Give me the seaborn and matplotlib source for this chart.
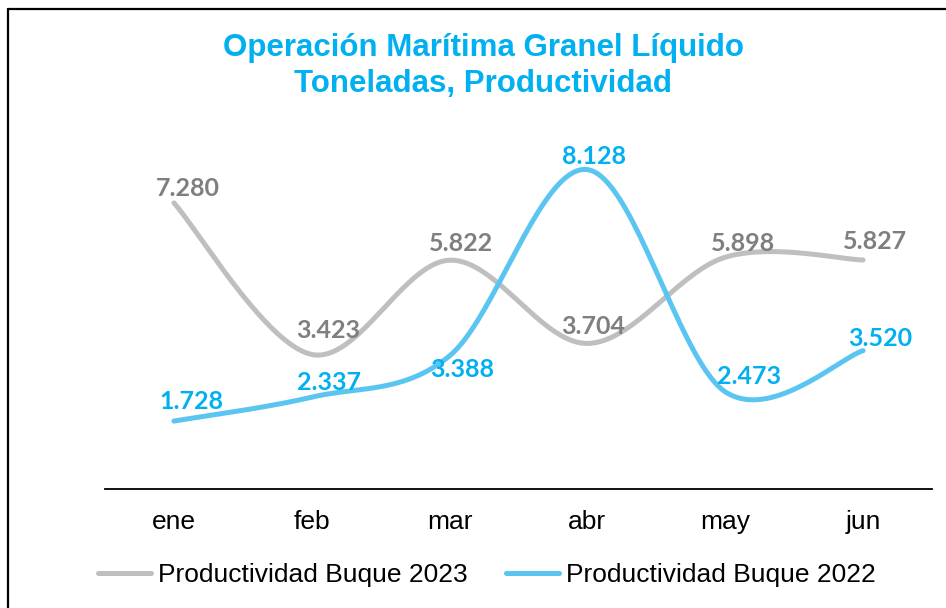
import numpy as np
import pandas as pd
import matplotlib
matplotlib.use("Agg")
import matplotlib.pyplot as plt
from matplotlib.lines import Line2D
import seaborn as sns

months = ["ene", "feb", "mar", "abr", "may", "jun"]
prod_2023 = [7280, 3423, 5822, 3704, 5898, 5827]
prod_2022 = [1728, 2337, 3388, 8128, 2473, 3520]
series_names = ["Productividad Buque 2023", "Productividad Buque 2022"]

# label offsets in pixels (dx, dy), placed by hand as in the original
off_2023 = [(14, 14), (16, 24), (11, 17), (6, 17), (18, 14), (12, 18)]
off_2022 = [(18, 20), (17, 15), (13, -14), (7, 13), (24, 15), (17, 12)]

gray_line, gray_text = "#BFBFBF", "#7F7F7F"
blue_line, blue_text = "#5BC5F1", "#00B0F0"

sns.set_theme(style="white")
plt.rcParams["font.family"] = ["Liberation Sans", "DejaVu Sans"]
plt.rcParams["text.color"] = "black"


def smooth(xs, ys, n=40):
    # excel-like smoothed line: cubic bezier segments, catmull-rom controls
    pts = np.column_stack([xs, ys]).astype(float)
    ext = np.vstack([pts[0], pts, pts[-1]])
    out = []
    t = np.linspace(0, 1, n)[:, None]
    for i in range(len(pts) - 1):
        p0, p1, p2, p3 = ext[i], ext[i + 1], ext[i + 2], ext[i + 3]
        c1 = p1 + (p2 - p0) / 6
        c2 = p2 - (p3 - p1) / 6
        seg = (1 - t) ** 3 * p1 + 3 * (1 - t) ** 2 * t * c1 + 3 * (1 - t) * t ** 2 * c2 + t ** 3 * p2
        out.append(seg if i == 0 else seg[1:])
    return np.vstack(out)


fig = plt.figure(figsize=(9.46, 6.08), dpi=100)
ax = fig.add_axes([105 / 946, 1 - 489 / 608, 827 / 946, (489 - 96) / 608])

xs = np.arange(len(months))
for vals, name, lc in [(prod_2023, series_names[0], gray_line),
                       (prod_2022, series_names[1], blue_line)]:
    curve = smooth(xs, vals)
    df = pd.DataFrame({"x": curve[:, 0], "y": curve[:, 1]})
    sns.lineplot(data=df, x="x", y="y", sort=False, ax=ax, color=lc,
                 linewidth=3.6, label=name, solid_capstyle="round")

for vals, offs, tc in [(prod_2023, off_2023, gray_text),
                       (prod_2022, off_2022, blue_text)]:
    for i, v in enumerate(vals):
        txt = f"{v:,}".replace(",", ".")
        ax.annotate(txt, (xs[i], v), xytext=offs[i], textcoords="offset pixels",
                    ha="center", va="center", fontsize=18, fontweight="bold",
                    color=tc, family=["Lato", "DejaVu Sans"])

ax.set_xlim(-0.5, len(months) - 0.5)
ax.set_ylim(0, 10000)
ax.set_xticks(xs)
ax.set_xticklabels(months, fontsize=19, color="black")
ax.set_yticks([])
ax.set_xlabel("")
ax.set_ylabel("")
ax.tick_params(axis="x", length=0, pad=15)
for s in ["top", "left", "right"]:
    ax.spines[s].set_visible(False)
ax.spines["bottom"].set_color("black")
ax.spines["bottom"].set_linewidth(1.3)

handles, labels = ax.get_legend_handles_labels()
ax.get_legend().remove()
fig.legend(handles, labels, loc="center", bbox_to_anchor=(487 / 946, 1 - 575 / 608),
           ncol=2, frameon=False, fontsize=19, handlelength=2.0,
           handletextpad=0.27, columnspacing=1.45, labelcolor="black")

fig.text(483 / 946, 1 - 66 / 608,
         "Operación Marítima Granel Líquido\nToneladas, Productividad",
         ha="center", va="center", fontsize=22.5, fontweight="bold",
         color=blue_text, linespacing=1.3)

# outer frame (top and left edges visible)
fig.add_artist(Line2D([7.5 / 946, 1], [1 - 8.5 / 608] * 2, transform=fig.transFigure,
                      color="black", linewidth=1.6))
fig.add_artist(Line2D([7.5 / 946] * 2, [0, 1 - 8.5 / 608], transform=fig.transFigure,
                      color="black", linewidth=1.6))

fig.savefig("out.png", dpi=100)
